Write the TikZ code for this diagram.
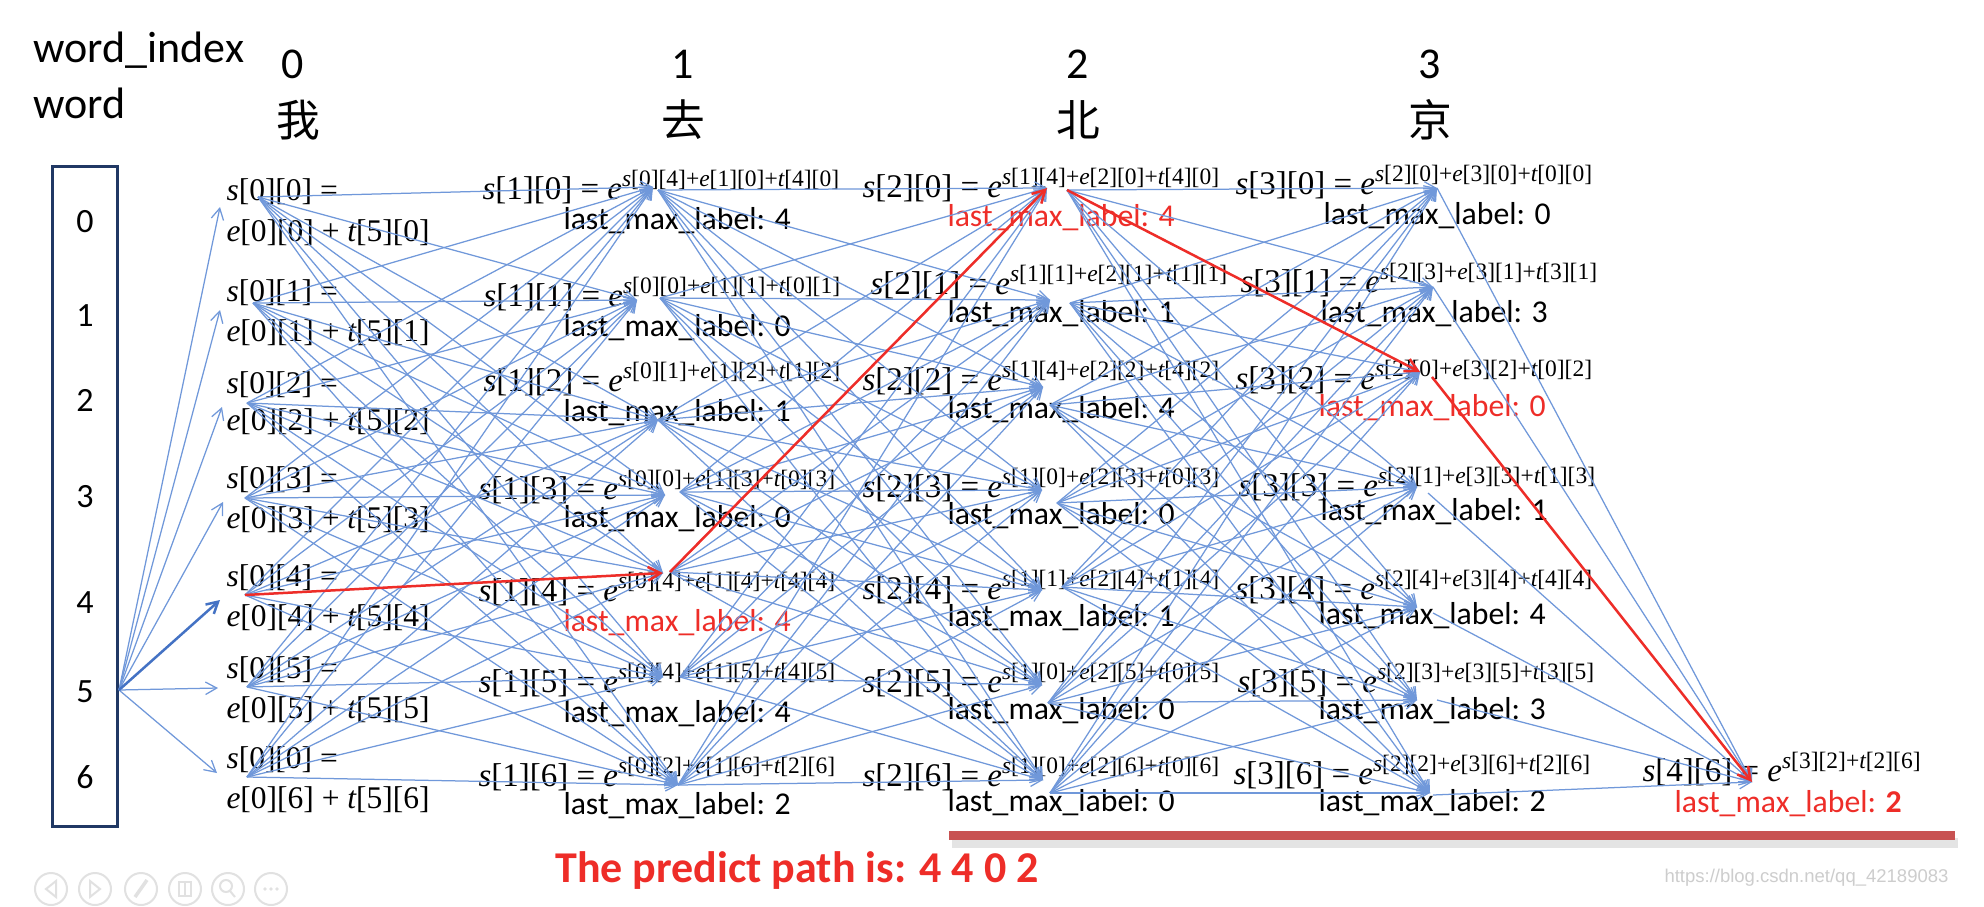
\documentclass[tikz,border=0pt]{standalone}
\usepackage{fontspec}
\setmainfont{Carlito}
\newfontfamily\tms{Liberation Serif}
\newfontfamily\cjk{Noto Sans CJK SC}
\newfontfamily\arialf{Liberation Sans}
\usetikzlibrary{arrows.meta}
\definecolor{edgeblue}{RGB}{112,152,218}
\definecolor{darkblue}{RGB}{68,114,196}
\definecolor{navy}{RGB}{32,56,100}
\definecolor{pathred}{RGB}{238,45,40}
\definecolor{barred}{RGB}{200,82,82}
\definecolor{wmgray}{RGB}{205,205,205}
\definecolor{icongray}{RGB}{225,225,225}
\newcommand{\myit}[1]{{\itshape #1}}
\newcommand{\mys}[2]{\myit{s}[#1][#2]}
\newcommand{\mye}[2]{\myit{e}[#1][#2]}
\newcommand{\myt}[2]{\myit{t}[#1][#2]}
\newcommand{\myexp}[1]{\raisebox{5pt}{\fontsize{9.4}{10}\selectfont #1}}
\newcommand{\lml}{last\_max\_label: }
\tikzset{
 mtext/.style={font=\tms\fontsize{13.2}{15}\selectfont, inner sep=0pt, anchor=base west, yshift=-0.5pt},
 ztext/.style={font=\tms\fontsize{12.6}{15}\selectfont, inner sep=0pt, anchor=base west},
 lbl/.style={font=\fontsize{12.7}{15}\selectfont, inner sep=0pt, anchor=base west},
 redlbl/.style={lbl, text=pathred},
 hdr/.style={font=\fontsize{17.6}{20}\selectfont, inner sep=0pt},
 cjkt/.style={font=\cjk\fontsize{17.5}{20}\selectfont, inner sep=0pt, anchor=center},
 boxnum/.style={font=\fontsize{13.6}{16}\selectfont, inner sep=0pt, anchor=center},
 conn/.style={draw=edgeblue, line width=0.5pt, -{Straight Barb[length=4.5pt,width=5pt]}},
 redconn/.style={draw=pathred, line width=1pt, -{Straight Barb[length=5pt,width=5.5pt]}},
}
\begin{document}
\begin{tikzpicture}[x=0.4pt,y=-0.4pt]
\useasboundingbox (0,0) rectangle (1984,906);
\fill[white] (0,0) rectangle (1984,906);

% headers
\node[hdr, anchor=base west] (hwi) at (33,63) {word\_index};
\node[hdr, anchor=base west] (hw) at (33,118) {word};
\node[hdr, anchor=base] (h0) at (293,79) {0};
\node[hdr, anchor=base] (h1) at (683,79) {1};
\node[hdr, anchor=base] (h2) at (1078,79) {2};
\node[hdr, anchor=base] (h3) at (1430,79) {3};
\node[cjkt] (c0) at (298,120) {我};
\node[cjkt] (c1) at (683,120) {去};
\node[cjkt] (c2) at (1078,120) {北};
\node[cjkt] (c3) at (1430,120) {京};

% left box
\draw[navy, line width=1.2pt] (52,166) rectangle (117,826);
\node[boxnum] (b0) at (85,222) {0};
\node[boxnum] (b1) at (85,316) {1};
\node[boxnum] (b2) at (85,400) {2};
\node[boxnum] (b3) at (85,497) {3};
\node[boxnum] (b4) at (85,603) {4};
\node[boxnum] (b5) at (85,692) {5};
\node[boxnum] (b6) at (85,777) {6};
\coordinate (bx) at (119,690);

% column 0
\node[ztext] (z0a) at (226,201) {\mys{0}{0} =};
\node[ztext] (z0b) at (226,241) {\mye{0}{0} + \myt{5}{0}};
\node[ztext] (z1a) at (226,301) {\mys{0}{1} =};
\node[ztext] (z1b) at (226,341) {\mye{0}{1} + \myt{5}{1}};
\node[ztext] (z2a) at (226,393) {\mys{0}{2} =};
\node[ztext] (z2b) at (226,430) {\mye{0}{2} + \myt{5}{2}};
\node[ztext] (z3a) at (226,488) {\mys{0}{3} =};
\node[ztext] (z3b) at (226,528) {\mye{0}{3} + \myt{5}{3}};
\node[ztext] (z4a) at (226,586) {\mys{0}{4} =};
\node[ztext] (z4b) at (226,626) {\mye{0}{4} + \myt{5}{4}};
\node[ztext] (z5a) at (226,678) {\mys{0}{5} =};
\node[ztext] (z5b) at (226,718) {\mye{0}{5} + \myt{5}{5}};
\node[ztext] (z6a) at (226,768) {\mys{0}{0} =};
\node[ztext] (z6b) at (226,808) {\mye{0}{6} + \myt{5}{6}};

% column 1
\node[mtext] (n10) at (482,198) {\mys{1}{0} = \myit{e}\myexp{\mys{0}{4}+\mye{1}{0}+\myt{4}{0}}};
\node[mtext] (n11) at (483,305) {\mys{1}{1} = \myit{e}\myexp{\mys{0}{0}+\mye{1}{1}+\myt{0}{1}}};
\node[mtext] (n12) at (483,390) {\mys{1}{2} = \myit{e}\myexp{\mys{0}{1}+\mye{1}{2}+\myt{1}{2}}};
\node[mtext] (n13) at (478,498) {\mys{1}{3} = \myit{e}\myexp{\mys{0}{0}+\mye{1}{3}+\myt{0}{3}}};
\node[mtext] (n14) at (478,600) {\mys{1}{4} = \myit{e}\myexp{\mys{0}{4}+\mye{1}{4}+\myt{4}{4}}};
\node[mtext] (n15) at (478,691) {\mys{1}{5} = \myit{e}\myexp{\mys{0}{4}+\mye{1}{5}+\myt{4}{5}}};
\node[mtext] (n16) at (478,785) {\mys{1}{6} = \myit{e}\myexp{\mys{0}{2}+\mye{1}{6}+\myt{2}{6}}};
\node[lbl] (l10) at (563,229) {\lml 4};
\node[lbl] (l11) at (563,336) {\lml 0};
\node[lbl] (l12) at (563,421) {\lml 1};
\node[lbl] (l13) at (563,527) {\lml 0};
\node[redlbl] (l14) at (563,631) {\lml 4};
\node[lbl] (l15) at (563,722) {\lml 4};
\node[lbl] (l16) at (563,814) {\lml 2};

% column 2
\node[mtext] (n20) at (862,196) {\mys{2}{0} = \myit{e}\myexp{\mys{1}{4}+\mye{2}{0}+\myt{4}{0}}};
\node[mtext] (n21) at (870,293) {\mys{2}{1} = \myit{e}\myexp{\mys{1}{1}+\mye{2}{1}+\myt{1}{1}}};
\node[mtext] (n22) at (862,389) {\mys{2}{2} = \myit{e}\myexp{\mys{1}{4}+\mye{2}{2}+\myt{4}{2}}};
\node[mtext] (n23) at (862,496) {\mys{2}{3} = \myit{e}\myexp{\mys{1}{0}+\mye{2}{3}+\myt{0}{3}}};
\node[mtext] (n24) at (862,598) {\mys{2}{4} = \myit{e}\myexp{\mys{1}{1}+\mye{2}{4}+\myt{1}{4}}};
\node[mtext] (n25) at (862,691) {\mys{2}{5} = \myit{e}\myexp{\mys{1}{0}+\mye{2}{5}+\myt{0}{5}}};
\node[mtext] (n26) at (862,785) {\mys{2}{6} = \myit{e}\myexp{\mys{1}{0}+\mye{2}{6}+\myt{0}{6}}};
\node[redlbl] (l20) at (947,226) {\lml 4};
\node[lbl] (l21) at (947,322) {\lml 1};
\node[lbl] (l22) at (947,418) {\lml 4};
\node[lbl] (l23) at (947,524) {\lml 0};
\node[lbl] (l24) at (947,626) {\lml 1};
\node[lbl] (l25) at (947,719) {\lml 0};
\node[lbl] (l26) at (947,811) {\lml 0};

% column 3
\node[mtext] (n30) at (1235,193) {\mys{3}{0} = \myit{e}\myexp{\mys{2}{0}+\mye{3}{0}+\myt{0}{0}}};
\node[mtext] (n31) at (1240,291) {\mys{3}{1} = \myit{e}\myexp{\mys{2}{3}+\mye{3}{1}+\myt{3}{1}}};
\node[mtext] (n32) at (1235,388) {\mys{3}{2} = \myit{e}\myexp{\mys{2}{0}+\mye{3}{2}+\myt{0}{2}}};
\node[mtext] (n33) at (1238,495) {\mys{3}{3} = \myit{e}\myexp{\mys{2}{1}+\mye{3}{3}+\myt{1}{3}}};
\node[mtext] (n34) at (1235,598) {\mys{3}{4} = \myit{e}\myexp{\mys{2}{4}+\mye{3}{4}+\myt{4}{4}}};
\node[mtext] (n35) at (1237,691) {\mys{3}{5} = \myit{e}\myexp{\mys{2}{3}+\mye{3}{5}+\myt{3}{5}}};
\node[mtext] (n36) at (1233,783) {\mys{3}{6} = \myit{e}\myexp{\mys{2}{2}+\mye{3}{6}+\myt{2}{6}}};
\node[lbl] (l30) at (1323,224) {\lml 0};
\node[lbl] (l31) at (1320,322) {\lml 3};
\node[redlbl] (l32) at (1318,416) {\lml 0};
\node[lbl] (l33) at (1320,520) {\lml 1};
\node[lbl] (l34) at (1318,624) {\lml 4};
\node[lbl] (l35) at (1318,719) {\lml 3};
\node[lbl] (l36) at (1318,811) {\lml 2};

% final node
\node[mtext] (n46) at (1642,780) {\mys{4}{6} = \myit{e}\myexp{\mys{3}{2}+\myt{2}{6}}};
\node[redlbl] (l46) at (1674,812) {\lml\textbf{2}};

% ports
\coordinate (i0-0) at (220,207); \coordinate (o0-0) at (258,197);
\coordinate (i0-1) at (220,310); \coordinate (o0-1) at (253,303);
\coordinate (i0-2) at (222,407); \coordinate (o0-2) at (247,403);
\coordinate (i0-3) at (223,502); \coordinate (o0-3) at (245,498);
\coordinate (i0-4) at (220,600); \coordinate (o0-4) at (245,595);
\coordinate (i0-5) at (218,688); \coordinate (o0-5) at (247,687);
\coordinate (i0-6) at (217,773); \coordinate (o0-6) at (247,777);

\coordinate (i1-0) at (653,187); \coordinate (o1-0) at (658,190);
\coordinate (i1-1) at (637,300); \coordinate (o1-1) at (660,298);
\coordinate (i1-2) at (658,420); \coordinate (o1-2) at (658,420);
\coordinate (i1-3) at (665,495); \coordinate (o1-3) at (680,492);
\coordinate (i1-4) at (663,573); \coordinate (o1-4) at (670,572);
\coordinate (i1-5) at (663,677); \coordinate (o1-5) at (680,677);
\coordinate (i1-6) at (678,785); \coordinate (o1-6) at (678,785);

\coordinate (i2-0) at (1047,188); \coordinate (o2-0) at (1067,190);
\coordinate (i2-1) at (1050,300); \coordinate (o2-1) at (1070,303);
\coordinate (i2-2) at (1043,387); \coordinate (o2-2) at (1050,405);
\coordinate (i2-3) at (1042,490); \coordinate (o2-3) at (1057,503);
\coordinate (i2-4) at (1042,590); \coordinate (o2-4) at (1062,587);
\coordinate (i2-5) at (1042,685); \coordinate (o2-5) at (1048,703);
\coordinate (i2-6) at (1043,780); \coordinate (o2-6) at (1050,793);

\coordinate (i3-0) at (1437,188); \coordinate (o3-0) at (1437,188);
\coordinate (i3-1) at (1433,287); \coordinate (o3-1) at (1433,287);
\coordinate (i3-2) at (1420,372); \coordinate (o3-2) at (1432,377);
\coordinate (i3-3) at (1417,487); \coordinate (o3-3) at (1428,493);
\coordinate (i3-4) at (1417,607); \coordinate (o3-4) at (1433,613);
\coordinate (i3-5) at (1417,700); \coordinate (o3-5) at (1437,700);
\coordinate (i3-6) at (1430,793); \coordinate (o3-6) at (1433,795);

\coordinate (i46) at (1752,782);

% connectors
\foreach \b in {0,1,2,3,5,6} \draw[conn] (bx) -- (i0-\b);
\draw[conn, draw=darkblue, line width=1pt] (bx) -- (i0-4);
\foreach \c/\d in {0/1,1/2,2/3}{
  \foreach \a in {0,...,6}{
    \foreach \b in {0,...,6}{
      \draw[conn] (o\c-\a) -- (i\d-\b);
    }
  }
}
\foreach \a in {0,...,6} \draw[conn] (o3-\a) -- (i46);

% predicted path
\draw[redconn] (o0-4) -- (i1-4);
\draw[redconn] (o1-4) -- (i2-0);
\draw[redconn] (o2-0) -- (i3-2);
\draw[redconn] (o3-2) -- (i46);

% bottom bar and text
\fill[gray!35, opacity=0.6] (952,838) rectangle (1958,848);
\fill[barred] (949,831) rectangle (1955,840);
\node[font=\bfseries\fontsize{17.6}{20}\selectfont, text=pathred, anchor=base west, inner sep=0pt] (pred) at (555,882) {The predict path is: 4 4 0 2};
\node[font=\arialf\fontsize{7.4}{9}\selectfont, text=wmgray, anchor=west, inner sep=0pt] (wm) at (1664,878) {https://blog.csdn.net/qq\_42189083};

% faint slideshow icons
\foreach \cx in {51,95,141,185,228,271} \draw[icongray, line width=0.8pt] (\cx,889) circle (16);
\draw[icongray, line width=0.8pt] (56,881) -- (46,889) -- (56,897) -- cycle;
\draw[icongray, line width=0.8pt] (90,881) -- (100,889) -- (90,897) -- cycle;
\draw[icongray, line width=1.4pt] (135,897) -- (147,880);
\draw[icongray, line width=0.8pt] (179,882) rectangle (191,896);
\draw[icongray, line width=0.8pt] (185,882) -- (185,896);
\draw[icongray, line width=0.8pt] (226,886) circle (6);
\draw[icongray, line width=0.8pt] (230,891) -- (235,897);
\foreach \dx in {265,271,277} \fill[icongray] (\dx,889) circle (1.8);
\end{tikzpicture}
\end{document}
